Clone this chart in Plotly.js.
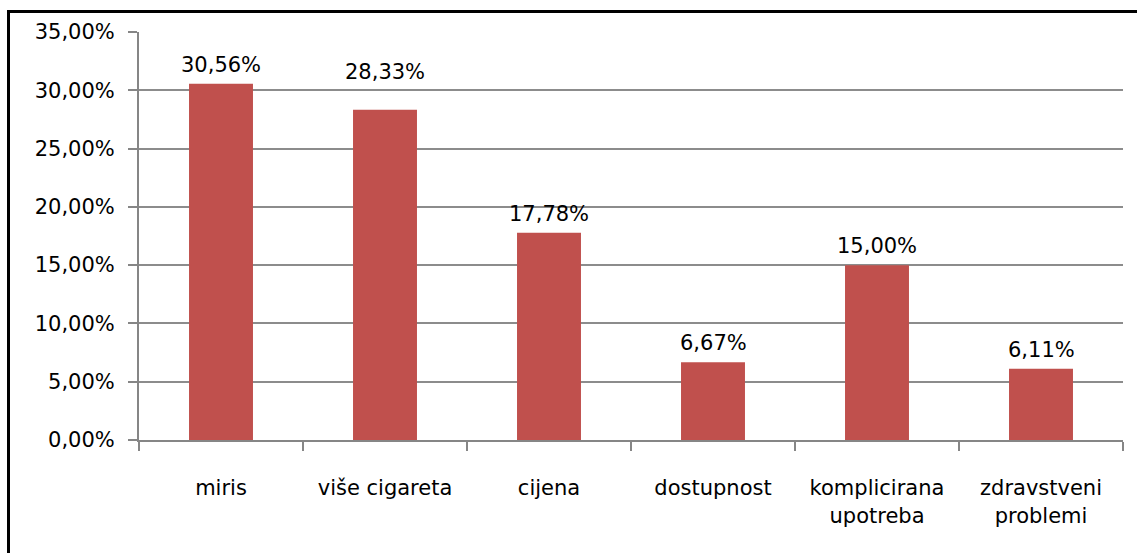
<!DOCTYPE html>
<html>
<head>
<meta charset="utf-8">
<script src="https://cdn.plot.ly/plotly-3.0.1.min.js"></script>
<style>
  html, body { margin: 0; padding: 0; background: #fff; overflow: hidden; }
  #frame { position: absolute; left: 7px; top: 10px; width: 1200px; height: 600px;
           border-left: 3px solid #000; border-top: 3px solid #000; box-sizing: border-box; }
  #chart { position: absolute; left: 0; top: 0; width: 1137px; height: 553px; }
</style>
</head>
<body>
<div id="frame"></div>
<div id="chart"></div>
<script>
const categories = ["miris", "više cigareta", "cijena", "dostupnost", "komplicirana<br>upotreba", "zdravstveni<br>problemi"];
const values = [30.56, 28.33, 17.78, 6.67, 15.00, 6.11];
const yTicks = [0, 5, 10, 15, 20, 25, 30, 35];
const yTickText = yTicks.map(v => v.toFixed(2).replace(".", ",") + "%");

const font = "DejaVu Sans, Verdana, sans-serif";
const fs = 21;
// label offsets above bars (px); the second label sits higher in the original
const labelShift = [5, 24, 5, 5, 5, 5];

const annotations = categories.map((c, i) => ({
  x: c, y: values[i], xref: "x", yref: "y",
  text: values[i].toFixed(2).replace(".", ",") + "%",
  showarrow: false, yanchor: "bottom", yshift: labelShift[i],
  font: { family: font, size: fs, color: "#000" }
}));

Plotly.newPlot("chart", [{
  type: "bar",
  x: categories,
  y: values,
  marker: { color: "#C0504D" },
  width: 0.39,
  hoverinfo: "skip"
}], {
  width: 1137,
  height: 553,
  margin: { l: 139, r: 14, t: 32, b: 113 },
  paper_bgcolor: "rgba(0,0,0,0)",
  plot_bgcolor: "rgba(0,0,0,0)",
  showlegend: false,
  annotations: annotations,
  xaxis: {
    type: "category",
    showline: true, linecolor: "#868686", linewidth: 2,
    ticks: "outside", tickson: "boundaries", ticklen: 9, tickcolor: "#868686", tickwidth: 2,
    showgrid: false,
    ticklabelstandoff: 28,
    tickfont: { family: font, size: fs, color: "#000" },
    fixedrange: true
  },
  yaxis: {
    range: [0, 35],
    tickvals: yTicks,
    ticktext: yTickText,
    showline: true, linecolor: "#868686", linewidth: 2,
    ticks: "outside", ticklen: 9, tickcolor: "#868686", tickwidth: 2,
    showgrid: true, gridcolor: "#8c8c8c", gridwidth: 2,
    zeroline: false,
    ticklabelstandoff: 9,
    tickfont: { family: font, size: fs, color: "#000" },
    fixedrange: true
  }
}, { displayModeBar: false, staticPlot: true });
</script>
</body>
</html>
